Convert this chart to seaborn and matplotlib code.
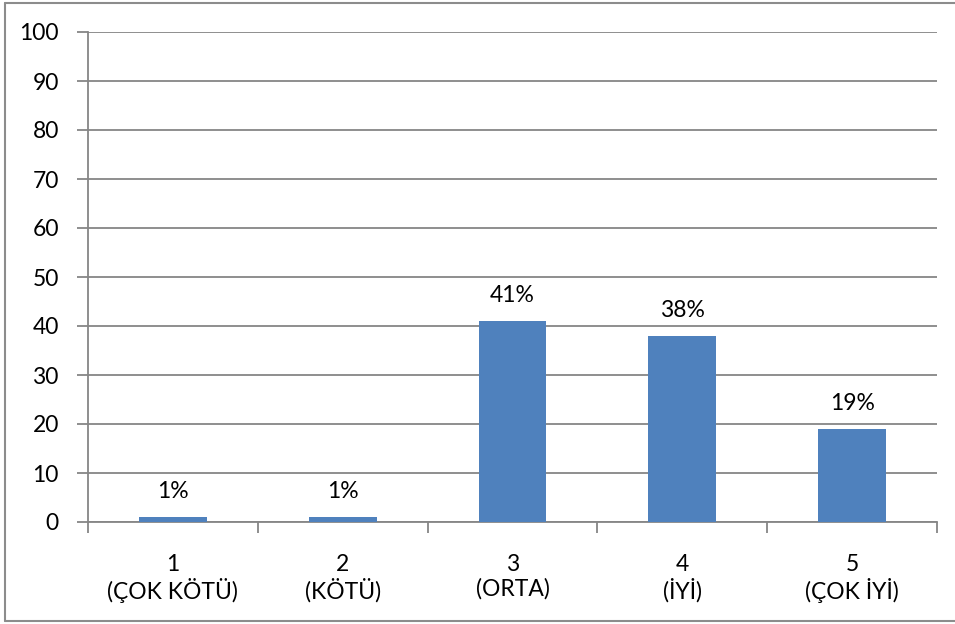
import matplotlib
matplotlib.use("Agg")
import matplotlib.pyplot as plt
import seaborn as sns
import pandas as pd
from matplotlib.lines import Line2D
from matplotlib.ticker import MultipleLocator, FixedLocator

categories = ["1\n(ÇOK KÖTÜ)", "2\n(KÖTÜ)", "3\n(ORTA)", "4\n(İYİ)", "5\n(ÇOK İYİ)"]
values = [1, 1, 41, 38, 19]
labels = ["1%", "1%", "41%", "38%", "19%"]

sns.set_style("white")
plt.rcParams['font.family'] = ['Lato', 'DejaVu Sans']

FS = 16.5
W, H = 955, 624
fig = plt.figure(figsize=(W / 100, H / 100), dpi=100)
ax = fig.add_axes([88 / W, 1 - 522 / H, (937 - 88) / W, (522 - 32) / H])

df = pd.DataFrame({"cat": categories, "val": values})
sns.barplot(data=df, x="cat", y="val", color="#4F81BD", saturation=1, width=0.4,
            linewidth=0, edgecolor="none", ax=ax, zorder=3)

grid_c = "#868686"
ax.set_ylim(0, 100)
ax.set_xlim(-0.5, 4.5)
ax.yaxis.set_major_locator(MultipleLocator(10))
ax.grid(axis="y", color=grid_c, linewidth=1.3, zorder=0)
ax.set_axisbelow(True)
for s in ["top", "right"]:
    ax.spines[s].set_visible(False)
for s in ["left", "bottom"]:
    ax.spines[s].set_color(grid_c)
    ax.spines[s].set_linewidth(1.3)

ax.tick_params(axis="y", left=True, length=8, width=1.3, color=grid_c, pad=13, labelsize=FS, labelcolor="black")
ax.tick_params(axis="x", which="major", length=0, pad=23, labelsize=FS, labelcolor="black")
ax.xaxis.set_minor_locator(FixedLocator([-0.5, 0.5, 1.5, 2.5, 3.5, 4.5]))
ax.tick_params(axis="x", which="minor", bottom=True, length=8, width=1.3, color=grid_c)
for t in ax.get_xticklabels():
    t.set_linespacing(1.15)

ax.set_xlabel("")
ax.set_ylabel("")

for i, (v, lab) in enumerate(zip(values, labels)):
    ax.annotate(lab, (i, v), xytext=(0, 15), textcoords="offset pixels",
                ha="center", va="bottom", fontsize=FS, color="black")

# figure border (left, top, bottom)
bc = "#8c8c8c"
fig.add_artist(Line2D([5 / W, 5 / W], [1 - 3 / H, 1 - 621 / H], color=bc, linewidth=1.5, transform=fig.transFigure))
fig.add_artist(Line2D([5 / W, 1], [1 - 3 / H, 1 - 3 / H], color=bc, linewidth=1.5, transform=fig.transFigure))
fig.add_artist(Line2D([5 / W, 1], [1 - 621 / H, 1 - 621 / H], color=bc, linewidth=1.5, transform=fig.transFigure))

fig.savefig("out.png", dpi=100)
